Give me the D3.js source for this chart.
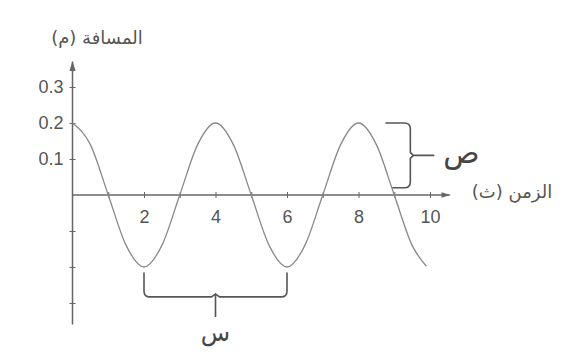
<!DOCTYPE html>
<html>
<head>
<meta charset="utf-8">
<script src="https://cdn.jsdelivr.net/npm/d3@7"></script>
<style>
  body { margin: 0; background: #fff; }
  svg { display: block; }
</style>
</head>
<body>
<svg width="562" height="358"></svg>
<script>
// time (s) and displacement (m)
const times = [0, 0.5, 1, 1.5, 2, 2.5, 3, 3.5, 4, 4.5, 5, 5.5, 6, 6.5, 7, 7.5, 8, 8.5, 9, 9.5, 9.9];
const distances = [0.2, 0.14, 0, -0.14, -0.2, -0.14, 0, 0.14, 0.2, 0.14, 0, -0.14, -0.2, -0.14, 0, 0.14, 0.2, 0.14, 0, -0.14, -0.198];
const xTicks = [1, 2, 3, 4, 5, 6, 7, 8, 9, 10];
const xTickLabels = [2, 4, 6, 8, 10];
const yTicks = [-0.3, -0.2, -0.1, 0.1, 0.2, 0.3];
const yTickLabels = [0.1, 0.2, 0.3];
const periodSpan = [2, 6];        // bracket "س"
const amplitudeSpan = [0.02, 0.2]; // bracket "ص"
const amplitudeAt = 9.45;

const svg = d3.select("svg");
const ink = "#666";

const x = d3.scaleLinear().domain([0, 10]).range([72.5, 430]);
const y = d3.scaleLinear().domain([-0.2, 0.2]).range([267, 123]);

// axes
const xAxis = d3.axisBottom(x)
  .tickValues(xTicks)
  .tickSize(0)
  .tickFormat(d => xTickLabels.includes(d) ? d : "");
const gx = svg.append("g")
  .attr("transform", `translate(0,${y(0)})`)
  .call(xAxis);
gx.select(".domain").remove();
gx.selectAll(".tick line").attr("y1", -3).attr("y2", 3).attr("stroke", ink);
gx.selectAll(".tick text")
  .attr("y", 15).attr("dy", "0.71em")
  .attr("font-family", "Liberation Sans, Arial, sans-serif")
  .attr("font-size", 18).attr("fill", "#555");

const yAxis = d3.axisLeft(y)
  .tickValues(yTicks)
  .tickSize(0)
  .tickFormat(d => yTickLabels.includes(d) ? d3.format(".1f")(d) : "");
const gy = svg.append("g")
  .attr("transform", `translate(${x(0)},0)`)
  .call(yAxis);
gy.select(".domain").remove();
gy.selectAll(".tick line").attr("x1", -3).attr("x2", 3).attr("stroke", ink);
gy.selectAll(".tick text")
  .attr("x", -9)
  .attr("font-family", "Liberation Sans, Arial, sans-serif")
  .attr("font-size", 18).attr("fill", "#555");

// axis lines with arrows
svg.append("defs").append("marker")
  .attr("id", "arr").attr("viewBox", "0 0 10 10")
  .attr("refX", 9).attr("refY", 5)
  .attr("markerWidth", 7).attr("markerHeight", 7)
  .attr("orient", "auto")
  .append("path").attr("d", "M0,2 L10,5 L0,8 Z").attr("fill", ink);

svg.append("line")
  .attr("x1", x(0)).attr("x2", x(10.55))
  .attr("y1", y(0)).attr("y2", y(0))
  .attr("stroke", ink).attr("stroke-width", 1.3)
  .attr("marker-end", "url(#arr)");
svg.append("line")
  .attr("x1", x(0)).attr("x2", x(0))
  .attr("y1", y(-0.36)).attr("y2", y(0.37))
  .attr("stroke", ink).attr("stroke-width", 1.5)
  .attr("marker-end", "url(#arr)");

// curve
const pts = times.map((t, i) => [t, distances[i]]);
svg.append("path")
  .datum(pts)
  .attr("fill", "none")
  .attr("stroke", "#888")
  .attr("stroke-width", 1.3)
  .attr("d", d3.line().x(d => x(d[0])).y(d => y(d[1])).curve(d3.curveMonotoneX));

// bracket ص (amplitude)
const bx = x(amplitudeAt), bt = y(amplitudeSpan[1]), bb = y(amplitudeSpan[0]);
const bm = (bt + bb) / 2, r = 6;
svg.append("path")
  .attr("fill", "none").attr("stroke", "#555").attr("stroke-width", 1.6)
  .attr("d", `M${bx - 25},${bt} H${bx - r} Q${bx},${bt} ${bx},${bt + r}
              V${bm - 3} L${bx + 3},${bm} L${bx},${bm + 3}
              V${bb - r} Q${bx},${bb} ${bx - r},${bb} H${bx - 18}
              M${bx + 3},${bm} H${bx + 24}`);
svg.append("text")
  .attr("x", bx + 51).attr("y", bm + 8)
  .attr("text-anchor", "middle")
  .attr("font-family", "DejaVu Sans, sans-serif")
  .attr("font-size", 30).attr("fill", "#444")
  .text("ص");

// bracket س (period)
const sx0 = x(periodSpan[0]), sx1 = x(periodSpan[1]);
const sTop = y(-0.215), sBot = y(-0.283), sMid = (sx0 + sx1) / 2;
svg.append("path")
  .attr("fill", "none").attr("stroke", "#555").attr("stroke-width", 1.6)
  .attr("d", `M${sx0},${sTop} V${sBot - r} Q${sx0},${sBot} ${sx0 + r},${sBot}
              H${sMid - 4} L${sMid},${sBot - 3} L${sMid + 4},${sBot} H${sx1 - r}
              Q${sx1},${sBot} ${sx1},${sBot - r} V${sTop}
              M${sMid},${sBot - 3} V${sBot + 20}`);
svg.append("text")
  .attr("x", sMid).attr("y", sBot + 44)
  .attr("text-anchor", "middle")
  .attr("font-family", "DejaVu Sans, sans-serif")
  .attr("font-size", 24).attr("fill", "#444")
  .text("س");

// axis titles
svg.append("text")
  .attr("x", 97).attr("y", 44)
  .attr("text-anchor", "middle")
  .attr("direction", "rtl")
  .attr("font-family", "DejaVu Sans, sans-serif")
  .attr("font-size", 18).attr("fill", "#555")
  .text("المسافة (م)");
svg.append("text")
  .attr("x", 512).attr("y", y(0) + 3)
  .attr("text-anchor", "middle")
  .attr("direction", "rtl")
  .attr("font-family", "DejaVu Sans, sans-serif")
  .attr("font-size", 18).attr("fill", "#555")
  .text("الزمن (ث)");
</script>
</body>
</html>
